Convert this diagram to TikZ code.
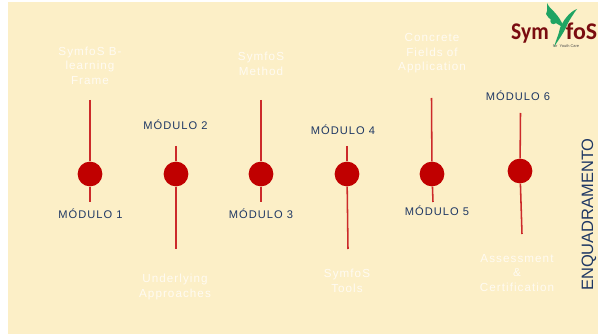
\documentclass[tikz,border=0pt]{standalone}
\usepackage{fontspec}
\setmainfont[LetterSpace=9]{Liberation Sans}
\newfontfamily\logofont{Carlito}
\newfontfamily\plainfont{Liberation Sans}
\definecolor{paper}{HTML}{FCEFC7}
\definecolor{pin}{HTML}{C00000}
\definecolor{stem}{HTML}{CC2A2A}
\definecolor{navy}{HTML}{1F3864}
\definecolor{ghost}{HTML}{FFFBF2}
\definecolor{leaf}{HTML}{1FA463}
\definecolor{brand}{HTML}{7A0C10}
\tikzset{
  dot/.style={circle, fill=pin, inner sep=0pt, minimum size=17.6pt},
  stemline/.style={stem, line width=1.1},
  modlabel/.style={text=navy, font=\fontsize{7.9}{10}\selectfont, inner sep=0pt},
  topic/.style={text=ghost, font=\fontsize{8.3}{10.3}\selectfont, align=center, inner sep=0pt},
  brandname/.style={text=brand, inner sep=0pt, anchor=base, font=\logofont\bfseries\fontsize{17}{18}\selectfont}
}
\begin{document}
\begin{tikzpicture}[x=0.025cm, y=-0.025cm]
\useasboundingbox (0,0) rectangle (598,334);
\fill[white] (0,0) rectangle (598,334);
\fill[paper] (8,2) rectangle (598,334);

%%%%%% Pins %%%%%%%
\coordinate (top1) at (90,100);
\coordinate (bot1) at (90,202);
\coordinate (top2) at (176,146);
\coordinate (bot2) at (176,249);
\coordinate (top3) at (261,100);
\coordinate (bot3) at (261,202);
\coordinate (top4) at (347,146);
\coordinate (bot4) at (348,249);
\coordinate (top5) at (431.5,98);
\coordinate (bot5) at (433,202);
\coordinate (top6) at (520.5,113);
\coordinate (bot6) at (522,234);

\node (dot1) at (90,174) [dot] {};
\node (dot2) at (176,174) [dot] {};
\node (dot3) at (261,174) [dot] {};
\node (dot4) at (347,174) [dot] {};
\node (dot5) at (432,174) [dot] {};
\node (dot6) at (520,171) [dot] {};

\foreach \i in {1,...,6} {
  \draw[stemline] (top\i) -- (dot\i);
  \draw[stemline] (dot\i) -- (bot\i);
}

%%%%%% Labels %%%%%%%
\node (mod1) at (90.5,214) [modlabel] {MÓDULO 1};
\node (mod2) at (175.5,125) [modlabel] {MÓDULO 2};
\node (mod3) at (261,214) [modlabel] {MÓDULO 3};
\node (mod4) at (343,130) [modlabel] {MÓDULO 4};
\node (mod5) at (437,211) [modlabel] {MÓDULO 5};
\node (mod6) at (518,96) [modlabel] {MÓDULO 6};

\node (frame) at (90,65.5) [topic] {SymfoS B-\\learning\\Frame};
\node (approach) at (175,287) [topic] {Underlying\\Approaches};
\node (method) at (261,64) [topic] {SymfoS\\Method};
\node (tools) at (347,281) [topic] {SymfoS\\Tools};
\node (fields) at (432,53.5) [topic] {Concrete\\Fields of\\Application};
\node (assess) at (517,273) [topic] {Assessment\\\&\\Certification};

\node (side) at (589,214.5) [rotate=90, text=navy, inner sep=0pt, font=\plainfont\fontsize{11.7}{13}\selectfont] {ENQUADRAMENTO};

%%%%%% Logo %%%%%%%
\node (sym) at (530,40) [brandname, xscale=0.9] {Sym};
\node (fos) at (581.5,40) [brandname] {foS};
\node (youth) at (566,46.5) [text=black!70, inner sep=0pt, font=\plainfont\fontsize{2.8}{3}\selectfont] {for \ Youth Care};
\fill[leaf] (547,3) .. controls (549,9) and (559,13) .. (564,28) .. controls (556,23) and (548,19) .. (546,14) .. controls (548,10) and (547,7) .. (547,3);
\fill[leaf] (577,9) .. controls (569,12) and (563,21) .. (560,28) .. controls (559,34) and (556,40) .. (554,47) .. controls (559,39) and (565,31) .. (567,25) .. controls (570,19) and (574,13) .. (577,9);
\fill[leaf] (553.5,21) circle (3.2);
\end{tikzpicture}
\end{document}
